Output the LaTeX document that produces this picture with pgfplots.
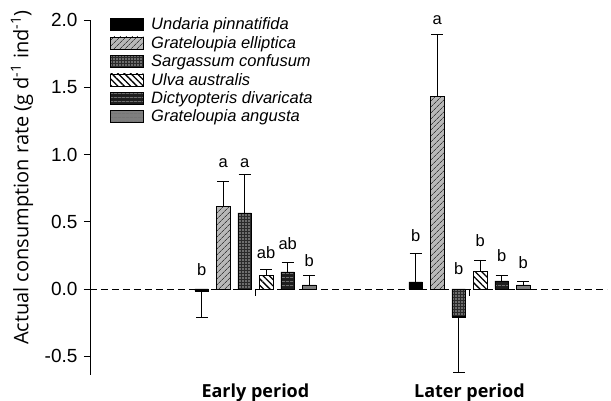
\documentclass[border=0pt]{standalone}
\usepackage{fontspec}
\setmainfont{Liberation Sans}
\newfontfamily\opensans{Open Sans}
\usepackage{pgfplots}
\pgfplotsset{compat=1.18}
\usetikzlibrary{patterns,patterns.meta}

\definecolor{gel}{HTML}{B8B8B8}
\definecolor{sarg}{HTML}{2A2A2A}
\definecolor{dict}{HTML}{1E1E1E}
\definecolor{gang}{HTML}{7E7E7E}

\pgfplotstableread{
x y ep em
0 -0.015 0 0.20
1 0.052 0.214 0
}\undaria
\pgfplotstableread{
x y ep em
0 0.614 0.186 0
1 1.43 0.463 0
}\gelliptica
\pgfplotstableread{
x y ep em
0 0.565 0.285 0
1 -0.207 0 0.41
}\sargassum
\pgfplotstableread{
x y ep em
0 0.102 0.045 0
1 0.129 0.087 0
}\ulva
\pgfplotstableread{
x y ep em
0 0.127 0.073 0
1 0.060 0.042 0
}\dictyo
\pgfplotstableread{
x y ep em
0 0.030 0.074 0
1 0.030 0.024 0
}\gangusta
\pgfplotstableread{
x y lab
-0.251 0.099 b
-0.151 0.900 a
-0.050 0.900 a
0.050 0.224 ab
0.151 0.291 ab
0.251 0.166 b
0.749 0.353 b
0.849 1.970 a
0.950 0.104 b
1.050 0.316 b
1.151 0.204 b
1.251 0.154 b
}\letters

\begin{document}
\begin{tikzpicture}
\begin{axis}[
  name=ax,
  scale only axis,
  width=517pt, height=355pt,
  ybar, bar width=13.5pt,
  xmin=-0.773, xmax=1.643,
  ymin=-0.64, ymax=2.0,
  axis y line*=left,
  axis x line*=bottom,
  x axis line style={draw=none},
  xtick={0,1},
  xticklabels={Early period, Later period},
  xtick style={draw=none},
  xticklabel style={font=\opensans\bfseries\fontsize{18}{20}\selectfont, yshift=1pt},
  ytick={-0.5,0,0.5,1,1.5,2},
  ytick pos=left,
  tick align=outside,
  major tick length=6pt,
  tick style={black, line width=0.7pt},
  y axis line style={black, line width=0.7pt},
  yticklabel style={font=\fontsize{19}{21}\selectfont, xshift=-3pt,
    /pgf/number format/.cd, fixed, fixed zerofill, precision=1, assume math mode=true},
  extra y ticks={0},
  extra y tick labels={},
  extra y tick style={grid=major, major grid style={black, line width=0.8pt, dash pattern=on 7pt off 4pt}},
  ylabel={Actual consumption rate (g d\textsuperscript{-1} ind\textsuperscript{-1})},
  ylabel style={font=\opensans\fontsize{20}{22}\selectfont, at={(axis description cs:-0.1315,0.556)}, anchor=center},
  legend image code/.code={\draw[#1, draw=black, line width=0.5pt] (0pt,-6pt) rectangle (33pt,6pt);},
  legend style={at={(axis description cs:0,1)}, anchor=north west, xshift=20pt, yshift=4pt,
    draw=none, fill=none, inner sep=0pt,
    font=\itshape\fontsize{16.5}{18}\selectfont,
    row sep=2pt,
    nodes={inner sep=1.5pt},
    /tikz/every odd column/.append style={column sep=6pt}},
  legend cell align=left,
  error bars/y dir=both, error bars/y explicit,
  error bars/error bar style={black, line width=0.7pt},
  error bars/error mark options={rotate=90, black, line width=0.7pt, mark size=6pt},
]
\pgfplotsset{mybar/.style={draw=black, line width=0.5pt}}

\addplot[mybar, bar shift=-53.75pt, fill=black]
  table[x=x, y=y, y error plus=ep, y error minus=em] {\undaria};
\addlegendentry{Undaria pinnatifida}

\addplot[mybar, bar shift=-32.25pt, fill=gel,
  postaction={pattern={Lines[angle=45,distance=4pt,line width=0.8pt]}, pattern color=black!75}]
  table[x=x, y=y, y error plus=ep, y error minus=em] {\gelliptica};
\addlegendentry{Grateloupia elliptica}

\addplot[mybar, bar shift=-10.75pt, fill=sarg,
  postaction={pattern={Dots[distance=3pt,radius=0.8pt]}, pattern color=black!30}]
  table[x=x, y=y, y error plus=ep, y error minus=em] {\sargassum};
\addlegendentry{Sargassum confusum}

\addplot[mybar, bar shift=10.75pt, fill=white,
  postaction={pattern={Lines[angle=-45,distance=4.5pt,line width=1.3pt]}, pattern color=black}]
  table[x=x, y=y, y error plus=ep, y error minus=em] {\ulva};
\addlegendentry{Ulva australis}

\addplot[mybar, bar shift=32.25pt, fill=dict,
  postaction={pattern={Lines[angle=0,distance=4pt,line width=0.7pt]}, pattern color=black!40}]
  table[x=x, y=y, y error plus=ep, y error minus=em] {\dictyo};
\addlegendentry{Dictyopteris divaricata}

\addplot[mybar, bar shift=53.75pt, fill=gang,
  postaction={pattern={Lines[angle=0,distance=4pt,line width=0.7pt]}, pattern color=black!55}]
  table[x=x, y=y, y error plus=ep, y error minus=em] {\gangusta};
\addlegendentry{Grateloupia angusta}

\addplot[sharp plot, bar shift=0pt, draw=none, no markers, forget plot,
  error bars/y dir=none,
  nodes near coords, point meta=explicit symbolic,
  nodes near coords style={anchor=base, inner sep=0pt, text=black, font=\fontsize{16.5}{18}\selectfont}]
  table[x=x, y=y, meta=lab] {\letters};

\draw[black, line width=0.7pt] (axis cs:0,0) -- ++(0pt,-7pt);
\draw[black, line width=0.7pt] (axis cs:1,0) -- ++(0pt,-7pt);
\end{axis}
\pgfresetboundingbox
\path ([shift={(-90pt,-26pt)}]ax.south west) rectangle ([shift={(4pt,20pt)}]ax.north east);
\end{tikzpicture}
\end{document}
